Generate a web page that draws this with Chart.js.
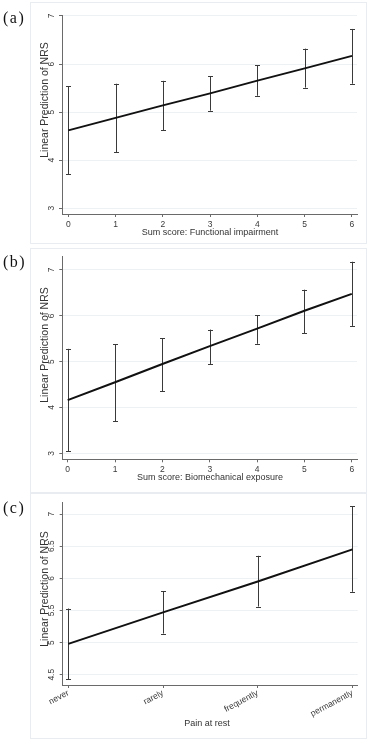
<!DOCTYPE html>
<html>
<head>
<meta charset="utf-8">
<script src="https://cdn.jsdelivr.net/npm/chart.js@4/dist/chart.umd.min.js"></script>
<style>
  html, body { margin: 0; padding: 0; background: #ffffff; }
  body { width: 376px; height: 745px; position: relative; overflow: hidden; font-family: "Liberation Sans", Arial, sans-serif; }
  .frame { position: absolute; border: 1px solid #e9edf2; box-sizing: border-box; }
  canvas { position: absolute; left: 0; }
  .plabel { position: absolute; left: 3px; font-family: "Liberation Serif", "Times New Roman", serif; font-size: 16px; letter-spacing: 1.5px; color: #111; transform: translateY(-50%); line-height: 1; }
  .xtitle { position: absolute; font-size: 9px; color: #333; transform: translate(-50%, -50%); white-space: nowrap; line-height: 1; }
  .ytitle { position: absolute; font-size: 10.5px; color: #333; transform: translate(-50%, -50%) rotate(-90deg); white-space: nowrap; line-height: 1; }
</style>
</head>
<body>
<div class="frame" style="left:30px;top:2px;width:337px;height:242px;"></div>
<div class="frame" style="left:30px;top:248px;width:337px;height:245px;"></div>
<div class="frame" style="left:30px;top:493px;width:337px;height:246px;"></div>

<canvas id="cA" width="376" height="246" style="top:0px;width:376px;height:246px;"></canvas>
<canvas id="cB" width="376" height="246" style="top:246px;width:376px;height:246px;"></canvas>
<canvas id="cC" width="376" height="253" style="top:492px;width:376px;height:253px;"></canvas>

<div class="plabel" style="top:17.5px;">(a)</div>
<div class="plabel" style="top:261.5px;">(b)</div>
<div class="plabel" style="top:508px;">(c)</div>

<div class="ytitle" style="left:43.5px;top:100px;">Linear Prediction of NRS</div>
<div class="ytitle" style="left:43.5px;top:345px;">Linear Prediction of NRS</div>
<div class="ytitle" style="left:43.5px;top:589px;">Linear Prediction of NRS</div>

<div class="xtitle" style="left:210px;top:232px;">Sum score: Functional impairment</div>
<div class="xtitle" style="left:210px;top:477px;">Sum score: Biomechanical exposure</div>
<div class="xtitle" style="left:207px;top:723px;">Pain at rest</div>

<script>
// ---------- Data ----------
// (a) Sum score: Functional impairment
const scoreA = [0, 1, 2, 3, 4, 5, 6];
const meanA  = [4.62, 4.88, 5.14, 5.39, 5.655, 5.91, 6.17];
const lowA   = [3.71, 4.17, 4.62, 5.03, 5.34, 5.51, 5.59];
const highA  = [5.54, 5.59, 5.65, 5.75, 5.97, 6.32, 6.73];

// (b) Sum score: Biomechanical exposure
const scoreB = [0, 1, 2, 3, 4, 5, 6];
const meanB  = [4.16, 4.55, 4.95, 5.34, 5.72, 6.11, 6.48];
const lowB   = [3.05, 3.70, 4.35, 4.95, 5.39, 5.62, 5.78];
const highB  = [5.28, 5.38, 5.51, 5.70, 6.01, 6.57, 7.18];

// (c) Pain at rest
const painCategories = ["never", "rarely", "frequently", "permanently"];
const meanC  = [4.98, 5.47, 5.95, 6.45];
const lowC   = [4.43, 5.14, 5.56, 5.79];
const highC  = [5.53, 5.80, 6.35, 7.12];

// tick values
const xTicksAB = [0, 1, 2, 3, 4, 5, 6];
const yTicksAB = [3, 4, 5, 6, 7];
const yTicksC  = [4.5, 5, 5.5, 6, 6.5, 7];

// ---------- Rendering ----------
const FONT = '"Liberation Sans", Arial, sans-serif';

const errorBarPlugin = {
  id: 'errorBars',
  beforeDatasetsDraw(chart, args, opts) {
    const xs = chart.scales.x, ys = chart.scales.y;
    const ctx = chart.ctx;
    ctx.save();
    ctx.strokeStyle = opts.color || '#333';
    ctx.lineWidth = 1;
    const cap = opts.cap || 2.5;
    opts.xs.forEach((xv, i) => {
      const px = Math.round(xs.getPixelForValue(xv)) + 0.5;
      const pl = ys.getPixelForValue(opts.low[i]);
      const ph = ys.getPixelForValue(opts.high[i]);
      ctx.beginPath();
      ctx.moveTo(px, pl); ctx.lineTo(px, ph);
      ctx.moveTo(px - cap, Math.round(pl) + 0.5); ctx.lineTo(px + cap, Math.round(pl) + 0.5);
      ctx.moveTo(px - cap, Math.round(ph) + 0.5); ctx.lineTo(px + cap, Math.round(ph) + 0.5);
      ctx.stroke();
    });
    ctx.restore();
  }
};

// vertical (rotated) y tick labels, placed on the y scale's own tick pixels
const yLabelPlugin = {
  id: 'yLabels',
  afterDraw(chart, args, opts) {
    const ys = chart.scales.y;
    const ctx = chart.ctx;
    ctx.save();
    ctx.fillStyle = '#3a3a3a';
    ctx.font = '8.5px ' + FONT;
    ctx.textAlign = 'center';
    ctx.textBaseline = 'middle';
    ys.ticks.forEach(t => {
      const py = ys.getPixelForValue(t.value);
      ctx.save();
      ctx.translate(opts.cx, py);
      ctx.rotate(-Math.PI / 2);
      ctx.fillText(String(t.value), 0, 0);
      ctx.restore();
    });
    ctx.restore();
  }
};

function makeChart(id, cfg) {
  const pts = cfg.xs.map((x, i) => ({ x: x, y: cfg.mean[i] }));
  return new Chart(document.getElementById(id), {
    type: 'line',
    data: {
      datasets: [{
        data: pts,
        borderColor: '#111111',
        borderWidth: 2,
        pointRadius: 0,
        tension: 0,
        fill: false
      }]
    },
    plugins: [errorBarPlugin, yLabelPlugin],
    options: {
      responsive: false,
      animation: false,
      devicePixelRatio: 1,
      layout: { padding: cfg.padding },
      plugins: {
        legend: { display: false },
        tooltip: { enabled: false },
        errorBars: { xs: cfg.xs, low: cfg.low, high: cfg.high, color: '#3a3a3a', cap: 2.5 },
        yLabels: { cx: 51.7 }
      },
      scales: {
        x: {
          type: 'linear',
          min: cfg.xmin, max: cfg.xmax,
          afterBuildTicks: s => { s.ticks = cfg.xTicks.map(v => ({ value: v })); },
          afterFit: s => { s.height = cfg.xH; },
          border: { display: true, color: '#6a6a6a', width: 1 },
          grid: { display: true, drawOnChartArea: false, drawTicks: true, tickLength: 3, tickColor: '#6a6a6a', tickWidth: 1 },
          ticks: {
            autoSkip: false,
            color: '#3a3a3a',
            font: { family: FONT, size: 8.5 },
            padding: cfg.xPad,
            minRotation: cfg.xRot, maxRotation: cfg.xRot,
            callback: cfg.xLabel
          }
        },
        y: {
          type: 'linear',
          min: cfg.ymin, max: cfg.ymax,
          afterBuildTicks: s => { s.ticks = cfg.yTicks.map(v => ({ value: v })); },
          afterFit: s => { s.width = 30; },
          border: { display: true, color: '#6a6a6a', width: 1 },
          grid: { display: true, drawOnChartArea: true, color: '#eef1f4', lineWidth: 1, drawTicks: true, tickLength: 3, tickColor: '#6a6a6a', tickWidth: 1 },
          ticks: { display: false }
        }
      }
    }
  });
}

makeChart('cA', {
  xs: scoreA, mean: meanA, low: lowA, high: highA,
  xmin: -0.133, xmax: 6.106, ymin: 2.88, ymax: 7.02,
  xTicks: xTicksAB, yTicks: yTicksAB,
  xLabel: v => String(v), xRot: 0, xPad: 2.5, xH: 20,
  padding: { left: 32, right: 19, top: 15, bottom: 12 }
});

makeChart('cB', {
  xs: scoreB, mean: meanB, low: lowB, high: highB,
  xmin: -0.114, xmax: 6.11, ymin: 2.87, ymax: 7.29,
  xTicks: xTicksAB, yTicks: yTicksAB,
  xLabel: v => String(v), xRot: 0, xPad: 2.5, xH: 20,
  padding: { left: 32.3, right: 19, top: 10.7, bottom: 12.7 }
});

makeChart('cC', {
  xs: painCategories.map((c, i) => i), mean: meanC, low: lowC, high: highC,
  xmin: -0.059, xmax: 3.055, ymin: 4.34, ymax: 7.176,
  xTicks: painCategories.map((c, i) => i), yTicks: yTicksC,
  xLabel: v => painCategories[v], xRot: 28, xPad: 0, xH: 40,
  padding: { left: 32.7, right: 18.3, top: 10.7, bottom: 20 }
});
</script>
</body>
</html>
